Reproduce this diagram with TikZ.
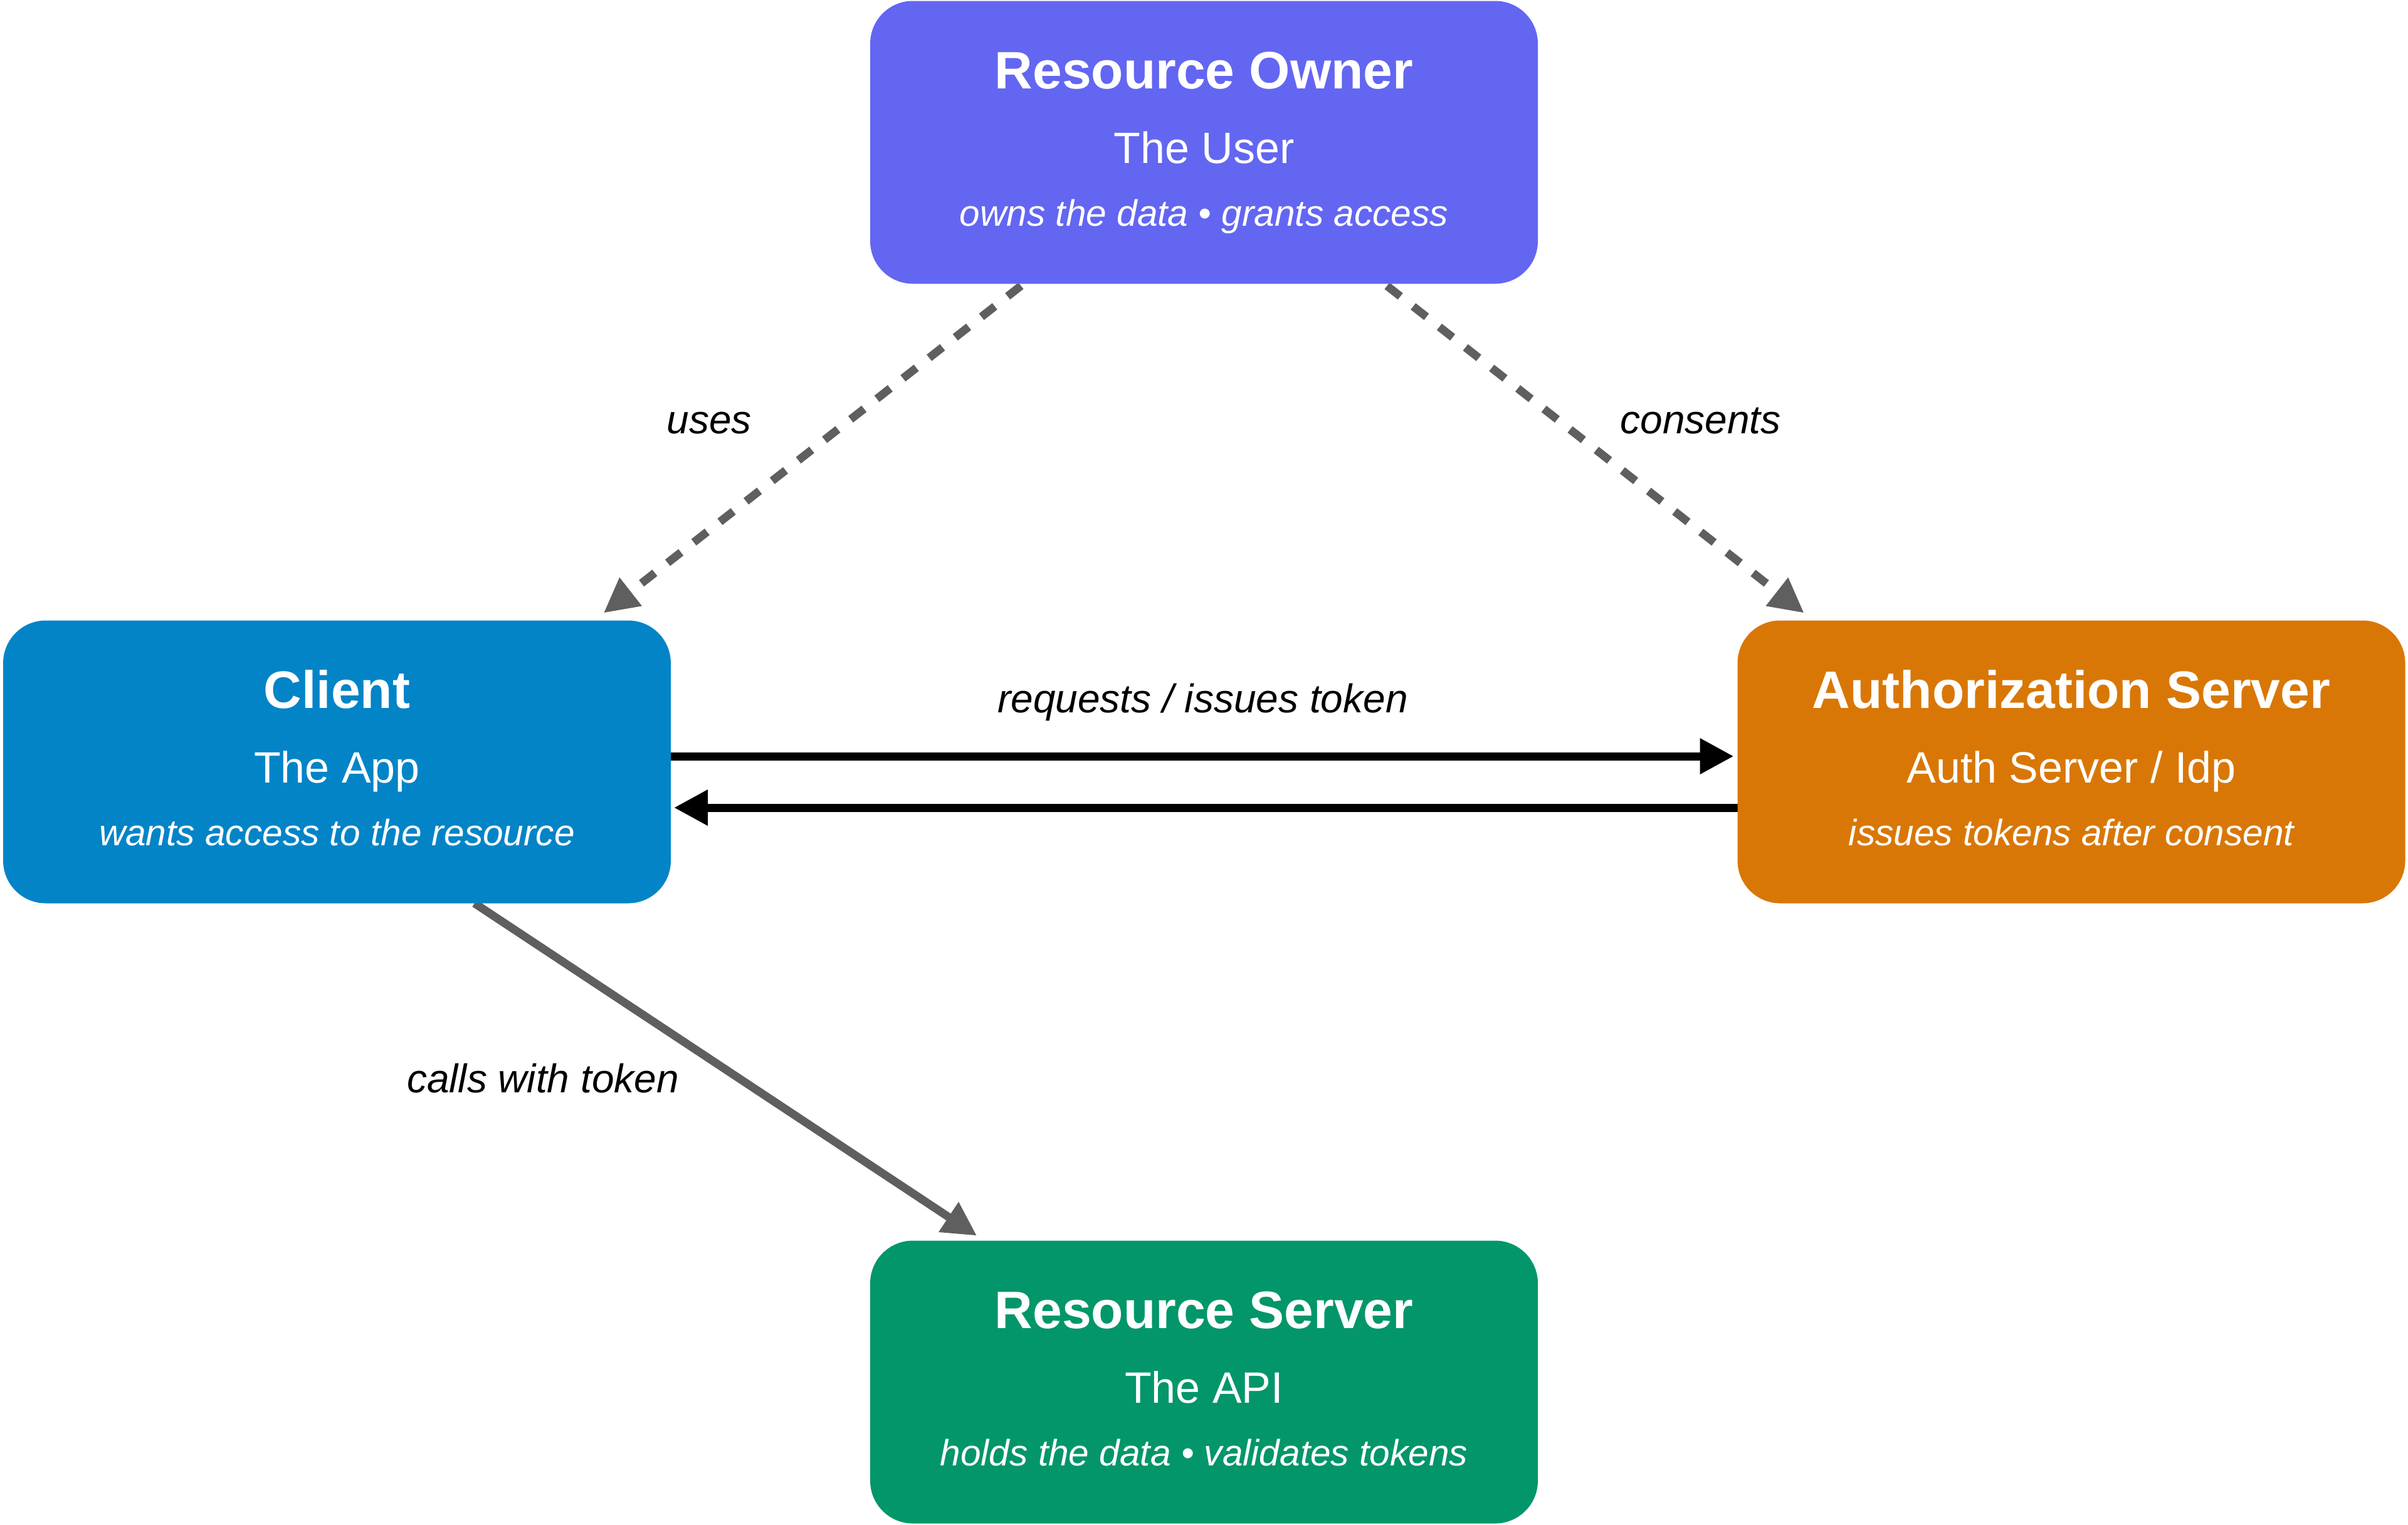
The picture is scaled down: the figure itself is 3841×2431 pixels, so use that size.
\documentclass[tikz,border=0pt]{standalone}
\usepackage{fontspec}
\setmainfont{Liberation Sans}
\usetikzlibrary{arrows.meta,calc,backgrounds}

\definecolor{ownerc}{HTML}{6366F1}
\definecolor{clientc}{HTML}{0284C7}
\definecolor{authc}{HTML}{D97706}
\definecolor{serverc}{HTML}{02966A}
\definecolor{edgegray}{HTML}{5F5F5F}

\begin{document}
\begin{tikzpicture}[x=0.25pt,y=-0.25pt,
  box/.style={rectangle, rounded corners=17pt, minimum width=266.25pt,
    minimum height=112.75pt, inner sep=0pt, outer sep=0pt, fill=#1},
  boxtitle/.style={anchor=base, inner sep=0pt, text=white,
    font=\fontsize{21}{25}\selectfont\bfseries},
  boxsub/.style={anchor=base, inner sep=0pt, text=white,
    font=\fontsize{17.5}{21}\selectfont},
  boxdesc/.style={anchor=base, inner sep=0pt, text=white,
    font=\fontsize{14.65}{18}\selectfont\itshape},
  elabel/.style={anchor=base, inner sep=0pt, text=black,
    font=\fontsize{16}{19}\selectfont\itshape},
  blackarrow/.style={draw=black, line width=3.25pt,
    -{Triangle[length=13.5pt,width=13.5pt]}},
  grayarrow/.style={draw=edgegray, line width=3.25pt,
    -{Triangle[length=13.5pt,width=13.5pt]}},
  dasharrow/.style={draw=edgegray, line width=3.25pt,
    dash pattern=on 6.75pt off 6.5pt,
    -{Triangle[length=13.75pt,width=13.5pt]}}
]
\useasboundingbox (0,0) rectangle (3841,2431);

% the four parties
\node[box=ownerc]  (ro)     at (1920.5,227)  {};
\node[box=clientc] (client) at (537.5,1215)  {};
\node[box=authc]   (as)     at (3304,1215)   {};
\node[box=serverc] (rs)     at (1920.5,2204) {};

% box texts
\node[boxtitle] (ro-title) at ($(ro.north)+(0,140)$) {Resource Owner};
\node[boxsub]   (ro-sub)   at ($(ro.north)+(0,259)$) {The User};
\node[boxdesc]  (ro-desc)  at ($(ro.north)+(0,359)$) {owns the data • grants access};

\node[boxtitle] (cl-title) at ($(client.north)+(0,140)$) {Client};
\node[boxsub]   (cl-sub)   at ($(client.north)+(0,259)$) {The App};
\node[boxdesc]  (cl-desc)  at ($(client.north)+(0,359)$) {wants access to the resource};

\node[boxtitle] (as-title) at ($(as.north)+(0,140)$) {Authorization Server};
\node[boxsub]   (as-sub)   at ($(as.north)+(0,259)$) {Auth Server / Idp};
\node[boxdesc]  (as-desc)  at ($(as.north)+(0,359)$) {issues tokens after consent};

\node[boxtitle] (rs-title) at ($(rs.north)+(0,140)$) {Resource Server};
\node[boxsub]   (rs-sub)   at ($(rs.north)+(0,259)$) {The API};
\node[boxdesc]  (rs-desc)  at ($(rs.north)+(0,359)$) {holds the data • validates tokens};

% connectors, kept behind the boxes
\begin{scope}[on background layer]
  \coordinate (client-in)  at ($(client.north west)!0.885!(client.north east)$);
  \coordinate (as-in)      at ($(as.north west)!0.114!(as.north east)$);
  \coordinate (client-out) at ($(client.south west)!0.706!(client.south east)$);
  \coordinate (rs-in)      at ($(rs.north west)!0.171!(rs.north east)$);

  \draw[dasharrow, shorten >=4.85pt] (ro.center) -- (client-in);
  \draw[dasharrow, shorten >=4.85pt] (ro.center) -- (as-in);

  \draw[blackarrow, shorten >=1.5pt]
    ($(client.east)+(0,-9)$) -- ($(as.west)+(0,-9)$);
  \draw[blackarrow, shorten >=1.25pt]
    ($(as.west)+(0,73)$) -- ($(client.east)+(0,73)$);

  \draw[grayarrow, shorten >=3.6pt] (client-out) -- (rs-in);
\end{scope}

% connector labels
\node[elabel] (lbl-uses)     at (1131,691)   {uses};
\node[elabel] (lbl-consents) at (2712.5,691) {consents};
\node[elabel] (lbl-token)    at (1918.5,1136) {requests / issues token};
\node[elabel] (lbl-calls)    at (866,1742)   {calls with token};
\end{tikzpicture}
\end{document}
